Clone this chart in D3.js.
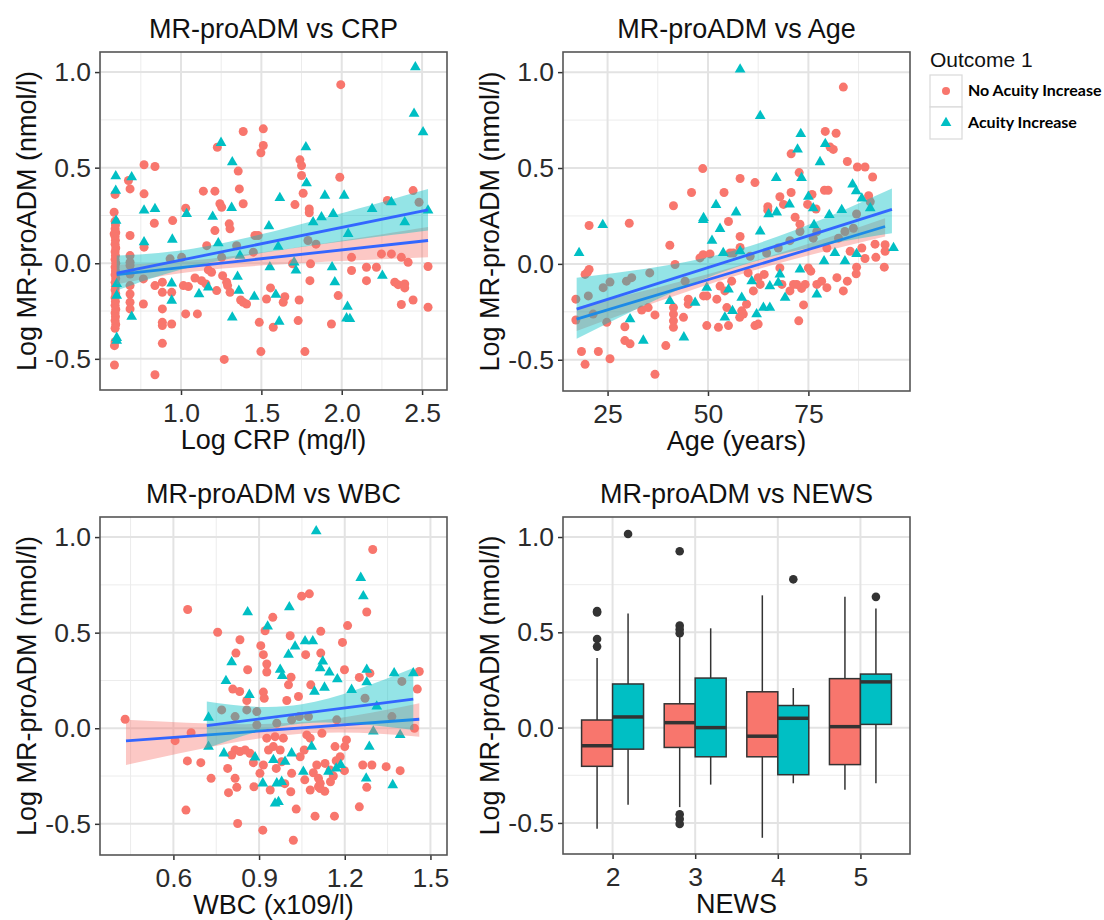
<html>
<head>
<style>
body { margin: 0; background: #fff; }
text { font-family: "Liberation Sans", Arial, sans-serif; }
</style>
<script src="https://cdnjs.cloudflare.com/ajax/libs/d3/7.8.5/d3.min.js"></script>
</head>
<body>
<script>
var width = 1104, height = 920;
var noColor = "#F8766D", incColor = "#00BFC4", fitColor = "#3366FF";

// shared y axis
var yTicks = [-0.5, 0.0, 0.5, 1.0];
var yMinor = [-0.25, 0.25, 0.75];

// CRP panel
var crpTicks = [1.0, 1.5, 2.0, 2.5];
var crpMinor = [0.5, 0.75, 1.25, 1.75, 2.25];
var crpNo = [[1.994,0.934],[1.387,0.689],[1.512,0.703],[1.512,0.616],[1.497,0.578],[1.226,0.607],[0.770,0.515],[0.838,0.506],[0.673,0.433],[0.683,0.389],[0.770,0.363],[0.590,0.360],[0.584,0.267],[0.683,0.145],[0.770,0.084],[0.834,0.209],[0.948,0.223],[1.029,0.288],[1.139,0.377],[1.211,0.377],[1.242,0.311],[1.253,0.293],[1.211,0.171],[1.300,0.206],[1.305,0.180],[1.356,0.482],[1.363,0.389],[1.387,0.311],[1.740,0.541],[1.750,0.511],[1.750,0.459],[1.760,0.366],[1.709,0.307],[1.798,0.284],[1.798,0.264],[1.988,0.450],[2.284,0.328],[2.444,0.380],[2.481,0.319],[1.460,0.145],[1.480,0.145],[1.170,-0.035],[1.087,-0.077],[1.015,-0.117],[1.046,-0.122],[1.128,-0.091],[1.155,-0.108],[1.190,-0.047],[1.259,-0.065],[1.284,-0.099],[1.222,-0.143],[1.305,-0.152],[1.290,-0.117],[1.371,-0.192],[1.387,-0.204],[1.408,-0.213],[1.532,-0.187],[1.557,-0.129],[1.646,-0.175],[1.636,-0.204],[1.574,-0.335],[1.487,-0.309],[1.497,-0.462],[1.269,-0.503],[1.735,-0.192],[1.729,-0.300],[1.771,-0.462],[1.802,-0.091],[1.806,-0.003],[1.694,-0.003],[1.978,-0.169],[1.936,-0.318],[2.061,-0.038],[2.061,0.031],[2.154,-0.091],[2.216,-0.021],[2.154,-0.021],[2.247,0.049],[2.309,0.049],[2.330,-0.099],[2.351,-0.112],[2.371,0.031],[2.392,-0.108],[2.392,-0.129],[2.413,0.005],[2.371,-0.216],[2.444,-0.192],[2.537,-0.017],[2.537,-0.230],[0.838,-0.117],[0.884,-0.099],[0.884,-0.152],[0.942,-0.152],[0.884,-0.239],[0.884,-0.309],[0.884,-0.326],[0.942,-0.318],[0.884,-0.419],[0.838,-0.583],[0.766,-0.213],[1.029,-0.265],[1.102,-0.265],[0.586,-0.532],[0.586,-0.431],[0.683,0.040],[0.683,-0.012],[0.683,-0.056],[0.683,-0.117],[0.683,-0.161],[0.683,-0.204],[0.683,-0.239],[0.584,0.154],[0.590,0.220],[0.592,0.200],[0.590,0.180],[0.594,0.160],[0.590,0.140],[0.592,0.120],[0.590,0.100],[0.594,0.080],[0.590,0.060],[0.592,0.040],[0.590,0.020],[0.594,0.000],[0.590,-0.020],[0.592,-0.040],[0.590,-0.060],[0.594,-0.080],[0.590,-0.100],[0.592,-0.120],[0.590,-0.140],[0.594,-0.160],[0.590,-0.180],[0.592,-0.200],[0.590,-0.220],[0.594,-0.240],[0.590,-0.260],[0.592,-0.280],[0.590,-0.300],[0.594,-0.320],[0.590,-0.340],[0.590,-0.410],[0.683,0.005],[0.766,-0.082],[0.932,0.023],[1.004,0.031],[1.160,0.092],[1.253,0.031],[1.346,0.092],[1.450,0.058],[1.790,0.119],[1.840,0.100]];
var crpInc = [[2.458,1.026],[2.450,0.782],[2.506,0.686],[1.777,0.607],[1.781,0.419],[1.249,0.630],[1.319,0.529],[0.594,0.455],[0.594,0.380],[0.693,0.450],[0.770,0.276],[0.838,0.284],[1.035,0.258],[1.197,0.244],[1.315,0.290],[0.946,0.124],[0.770,0.110],[0.596,0.223],[1.615,0.342],[1.895,0.354],[2.015,0.354],[1.822,0.215],[1.874,0.241],[1.947,0.258],[2.189,0.284],[2.309,0.319],[2.392,0.215],[2.537,0.276],[1.547,0.194],[1.232,0.105],[1.367,0.040],[1.553,-0.021],[1.605,0.087],[1.704,0.005],[1.715,-0.038],[1.940,-0.021],[1.957,-0.099],[2.253,-0.065],[2.036,-0.227],[2.051,-0.291],[2.030,-0.288],[1.611,-0.305],[1.590,-0.164],[1.456,-0.175],[1.360,-0.143],[1.319,-0.283],[1.352,-0.070],[1.112,-0.161],[1.170,-0.126],[0.942,-0.195],[0.942,-0.105],[0.693,-0.279],[0.600,-0.405],[0.600,-0.169],[0.600,-0.108],[0.600,-0.390],[2.040,0.154]];
var crpNoFit = [[0.6,-0.059],[2.537,0.119]];
var crpIncFit = [[0.6,-0.052],[2.537,0.279]];
var crpNoBand = [[0.6,-0.110,-0.008],[1.3,-0.025,0.035],[2.537,0.031,0.190]];
var crpIncBand = [[0.6,-0.143,0.040],[1.3,0.023,0.113],[2.537,0.171,0.389]];

// Age panel
var ageTicks = [25, 50, 75];
var ageMinor = [37.5, 62.5, 87.5];
var ageNo = [[83.7,0.922],[79.2,0.691],[81.9,0.681],[80.4,0.609],[81.2,0.597],[70.7,0.574],[48.7,0.497],[84.7,0.534],[87.2,0.505],[89.1,0.505],[91.0,0.453],[58.0,0.445],[61.7,0.424],[72.7,0.476],[45.9,0.372],[54.0,0.372],[41.4,0.303],[30.4,0.212],[20.4,0.200],[67.9,0.350],[70.7,0.372],[75.9,0.362],[79.0,0.384],[79.9,0.384],[64.9,0.298],[64.9,0.280],[68.8,0.310],[74.8,0.310],[76.9,0.286],[71.7,0.243],[55.1,0.221],[72.9,0.207],[90.0,0.355],[58.0,0.143],[40.5,0.097],[48.8,0.048],[50.5,0.052],[58.0,0.086],[56.3,0.057],[67.5,0.083],[70.4,0.121],[76.2,0.134],[79.6,0.083],[82.5,0.134],[85.4,0.066],[88.3,0.083],[91.6,0.103],[94.1,0.100],[94.1,0.066],[91.8,0.034],[89.1,0.028],[93.9,-0.017],[87.0,-0.017],[86.9,-0.052],[84.7,-0.090],[82.1,-0.072],[83.7,-0.141],[79.6,-0.124],[78.3,-0.090],[77.1,-0.107],[75.0,-0.021],[75.6,-0.038],[74.2,-0.107],[73.3,-0.128],[72.1,-0.107],[71.3,-0.107],[73.8,-0.214],[72.6,-0.297],[70.4,-0.141],[68.4,-0.107],[67.9,-0.021],[64.0,-0.055],[63.0,-0.107],[62.5,-0.072],[61.3,-0.141],[60.0,-0.047],[59.6,-0.210],[58.4,-0.245],[57.9,-0.279],[62.5,-0.314],[61.7,-0.322],[58.8,-0.262],[54.7,-0.228],[55.1,-0.322],[52.6,-0.331],[49.7,-0.322],[49.7,-0.167],[48.9,-0.167],[52.2,-0.184],[53.0,-0.116],[54.2,-0.141],[55.9,-0.090],[45.1,-0.210],[45.1,-0.184],[43.9,-0.279],[41.4,-0.228],[41.4,-0.262],[41.4,-0.297],[41.4,-0.331],[39.5,-0.426],[36.8,-0.266],[36.8,-0.576],[29.3,-0.328],[29.3,-0.400],[30.6,-0.417],[25.6,-0.495],[22.7,-0.457],[18.5,-0.457],[19.4,-0.524],[17.1,-0.184],[17.1,-0.293],[20.0,-0.043],[19.4,-0.055],[20.4,-0.029],[48.0,0.031],[20.2,-0.167],[23.9,-0.124],[25.6,-0.095],[29.7,-0.090],[31.0,-0.072],[35.5,-0.047],[41.8,-0.003],[33.5,-0.241],[35.1,-0.228],[24.8,-0.305],[21.4,-0.262],[44.3,-0.090],[55.5,0.057],[60.5,0.040],[64.6,0.057],[72.9,0.169],[77.1,0.169],[86.2,0.186],[87.0,0.260],[90.4,0.324],[84.1,0.169]];
var ageInc = [[58.0,1.014],[63.0,0.772],[73.1,0.678],[72.3,0.597],[79.2,0.626],[77.9,0.531],[17.9,0.057],[23.8,0.203],[48.8,0.229],[48.9,0.240],[52.0,0.307],[57.0,0.269],[51.0,0.121],[53.0,0.183],[63.0,0.169],[67.0,0.448],[73.3,0.448],[75.0,0.350],[70.3,0.310],[65.1,0.259],[67.1,0.269],[76.2,0.290],[80.2,0.255],[83.3,0.281],[86.0,0.414],[86.9,0.379],[88.3,0.341],[90.4,0.290],[96.2,0.083],[76.4,0.203],[53.8,0.057],[58.0,0.066],[49.7,-0.124],[55.1,-0.133],[60.9,-0.090],[58.4,-0.176],[65.4,-0.116],[67.9,-0.055],[67.5,-0.098],[69.2,-0.176],[63.8,-0.228],[65.4,-0.228],[62.1,-0.262],[72.9,-0.029],[77.1,-0.159],[78.9,0.014],[81.6,0.057],[84.1,0.014],[87.0,0.052],[40.5,-0.193],[46.8,-0.202],[30.6,-0.288],[33.9,-0.400],[44.0,-0.383],[54.2,-0.279],[56.1,-0.245]];
var ageNoFit = [[17.3,-0.288],[94.1,0.195]];
var ageIncFit = [[17.3,-0.236],[95.8,0.284]];
var ageNoBand = [[17.3,-0.350,-0.226],[57,-0.062,-0.012],[94.1,0.143,0.238]];
var ageIncBand = [[17.3,-0.391,-0.072],[57,-0.018,0.072],[95.8,0.160,0.393]];

// WBC panel
var wbcTicks = [0.6, 0.9, 1.2, 1.5];
var wbcMinor = [0.45, 0.75, 1.05, 1.35];
var wbcNo = [[1.298,0.935],[0.650,0.621],[1.049,0.691],[1.076,0.703],[1.277,0.608],[0.948,0.580],[1.210,0.537],[0.755,0.502],[1.116,0.507],[0.921,0.510],[1.009,0.484],[0.833,0.463],[0.906,0.432],[1.192,0.449],[0.819,0.393],[0.915,0.385],[1.063,0.385],[1.116,0.393],[0.860,0.306],[0.927,0.336],[0.927,0.294],[1.012,0.267],[1.081,0.227],[1.199,0.306],[1.251,0.266],[1.288,0.288],[1.461,0.297],[1.454,0.205],[0.808,0.205],[0.832,0.192],[0.857,0.145],[0.915,0.189],[0.918,0.157],[0.997,0.145],[1.038,0.166],[1.003,0.227],[0.649,-0.171],[0.606,-0.065],[0.696,-0.180],[0.662,-0.023],[0.431,0.047],[0.732,-0.262],[0.644,-0.428],[0.790,-0.210],[0.816,-0.262],[0.793,-0.337],[0.822,-0.309],[0.825,-0.498],[0.913,-0.533],[1.020,-0.586],[1.030,-0.423],[1.096,-0.460],[1.164,-0.460],[1.251,-0.411],[0.882,-0.306],[0.939,-0.323],[1.011,-0.332],[1.079,-0.323],[1.114,-0.288],[1.108,-0.262],[0.903,-0.236],[0.915,-0.192],[0.933,-0.114],[0.950,-0.096],[0.974,-0.114],[0.816,-0.114],[0.833,-0.122],[0.851,-0.114],[0.868,-0.131],[0.804,-0.140],[0.956,-0.044],[0.927,-0.052],[0.985,-0.052],[1.014,-0.236],[1.044,-0.149],[1.058,-0.114],[1.079,-0.052],[1.120,-0.026],[1.166,-0.096],[1.184,-0.149],[1.200,-0.096],[1.206,-0.061],[1.131,-0.184],[1.149,-0.219],[1.102,-0.192],[1.090,-0.233],[1.108,-0.306],[1.114,-0.315],[1.199,-0.222],[1.263,-0.192],[1.295,-0.192],[1.345,-0.201],[1.394,-0.222],[1.277,-0.309],[1.444,0.000],[1.014,0.044],[1.041,0.061],[1.067,-0.035],[0.979,-0.175],[0.892,0.017],[0.769,0.096],[0.816,0.061],[0.857,0.096],[0.892,0.087],[0.962,0.026],[1.073,0.061],[1.271,0.157],[1.400,0.245],[1.365,0.061],[1.172,0.044],[1.150,-0.280],[1.160,-0.250],[1.130,-0.330],[1.170,-0.170],[1.060,-0.270],[0.960,-0.210],[0.880,-0.180],[0.990,-0.290]];
var wbcInc = [[1.100,1.031],[1.256,0.787],[1.265,0.691],[0.860,0.607],[1.006,0.633],[0.930,0.533],[1.061,0.455],[1.088,0.455],[1.026,0.428],[1.003,0.385],[0.804,0.346],[0.784,0.248],[0.866,0.175],[0.974,0.306],[0.981,0.274],[1.123,0.350],[1.114,0.315],[1.146,0.292],[1.094,0.192],[1.129,0.213],[1.174,0.257],[1.224,0.201],[1.277,0.306],[1.277,0.241],[1.373,0.288],[1.440,0.288],[1.312,0.114],[0.723,0.056],[0.723,-0.096],[0.777,-0.131],[0.886,-0.152],[0.950,-0.166],[0.991,-0.175],[1.014,-0.131],[1.084,-0.096],[1.055,-0.227],[0.913,-0.288],[0.962,-0.288],[0.979,-0.280],[0.956,-0.393],[0.968,-0.385],[1.143,-0.227],[1.170,-0.210],[1.186,-0.192],[1.286,-0.096],[1.275,-0.262],[1.368,-0.297],[1.394,-0.035],[1.300,-0.017]];
var wbcNoFit = [[0.434,-0.066],[1.461,0.047]];
var wbcIncFit = [[0.717,0.014],[1.440,0.152]];
var wbcNoBand = [[0.434,-0.192,0.044],[1.0,-0.035,0.027],[1.461,-0.044,0.131]];
var wbcIncBand = [[0.717,-0.105,0.140],[1.05,0.025,0.125],[1.440,-0.009,0.315]];

// NEWS panel (box plot summaries)
var newsCats = ["2", "3", "4", "5"];
var newsNo = [
    {lo: -0.530, q1: -0.203, med: -0.095, q3: 0.040, hi: 0.365, out: [0.611, 0.604, 0.465, 0.425]},
    {lo: -0.417, q1: -0.104, med: 0.026, q3: 0.125, hi: 0.480, out: [0.925, 0.535, 0.515, 0.495, -0.455, -0.480, -0.505]},
    {lo: -0.578, q1: -0.153, med: -0.045, q3: 0.188, hi: 0.694, out: []},
    {lo: -0.326, q1: -0.194, med: 0.005, q3: 0.257, hi: 0.686, out: []}
];
var newsInc = [
    {lo: -0.405, q1: -0.113, med: 0.056, q3: 0.229, hi: 0.599, out: [1.016]},
    {lo: -0.299, q1: -0.153, med: 0.000, q3: 0.260, hi: 0.521, out: []},
    {lo: -0.292, q1: -0.247, med: 0.049, q3: 0.116, hi: 0.208, out: [0.778]},
    {lo: -0.292, q1: 0.017, med: 0.240, q3: 0.281, hi: 0.625, out: [0.686]}
];

var yLabel = "Log MR-proADM (nmol/l)";

var svg = d3.select("body").append("svg")
    .attr("width", width)
    .attr("height", height);

function makePanel(p) {
    var g = svg.append("g").attr("transform", "translate(" + p.x + "," + p.y + ")");
    var y = d3.scaleLinear().domain([-0.663, 1.105]).range([p.h, 0]);
    var x = p.band
        ? d3.scalePoint().domain(newsCats).range([0, p.w]).padding(0.6)
        : d3.scaleLinear().domain(p.xdom).range([0, p.w]);

    g.append("rect").attr("width", p.w).attr("height", p.h).attr("fill", "white");

    var grid = g.append("g");
    grid.selectAll(".ymin").data(yMinor).enter().append("line")
        .attr("x1", 0).attr("x2", p.w)
        .attr("y1", d => y(d)).attr("y2", d => y(d))
        .attr("stroke", "#ececec").attr("stroke-width", 1);
    if (p.xminor) {
        grid.selectAll(".xmin").data(p.xminor).enter().append("line")
            .attr("x1", d => x(d)).attr("x2", d => x(d))
            .attr("y1", 0).attr("y2", p.h)
            .attr("stroke", "#ececec").attr("stroke-width", 1);
    }
    grid.selectAll(".ymaj").data(yTicks).enter().append("line")
        .attr("x1", 0).attr("x2", p.w)
        .attr("y1", d => y(d)).attr("y2", d => y(d))
        .attr("stroke", "#e3e3e3").attr("stroke-width", 2);
    var xt = p.band ? newsCats : p.xticks;
    grid.selectAll(".xmaj").data(xt).enter().append("line")
        .attr("x1", d => x(d)).attr("x2", d => x(d))
        .attr("y1", 0).attr("y2", p.h)
        .attr("stroke", "#e3e3e3").attr("stroke-width", 2);

    var yAxis = g.append("g")
        .call(d3.axisLeft(y).tickValues(yTicks).tickFormat(d => d.toFixed(1)).tickSize(5).tickPadding(4));
    var xAxis = g.append("g").attr("transform", "translate(0," + p.h + ")")
        .call(d3.axisBottom(x).tickValues(xt).tickFormat(p.fmt).tickSize(5).tickPadding(8));
    [yAxis, xAxis].forEach(function (a) {
        a.select(".domain").remove();
        a.selectAll("line").attr("stroke", "#333").attr("stroke-width", 1.5);
        a.selectAll("text").attr("fill", "#2b2b2b")
            .style("font-size", "26.5px")
            .style("font-family", "'Liberation Sans', Arial, sans-serif");
    });

    g.append("text").attr("x", p.w / 2).attr("y", -14)
        .attr("text-anchor", "middle").attr("fill", "#111")
        .style("font-size", "27px").text(p.title);
    g.append("text").attr("x", p.w / 2).attr("y", p.h + 59)
        .attr("text-anchor", "middle").attr("fill", "#111")
        .style("font-size", "27px").text(p.xlab);
    g.append("text")
        .attr("transform", "translate(-64," + (p.h / 2) + ") rotate(-90)")
        .attr("text-anchor", "middle").attr("fill", "#111")
        .style("font-size", "27px").text(yLabel);

    var plot = g.append("g");
    return {g: g, plot: plot, x: x, y: y, p: p};
}

function finishPanel(P) {
    P.g.append("rect").attr("width", P.p.w).attr("height", P.p.h)
        .attr("fill", "none").attr("stroke", "#555").attr("stroke-width", 1.6);
}

var tri = d3.symbol().type(d3.symbolTriangle).size(50);

function drawScatter(P, noPts, incPts, noFit, incFit, noBand, incBand) {
    var x = P.x, y = P.y, plot = P.plot;
    plot.selectAll(".no").data(noPts).enter().append("circle")
        .attr("cx", d => x(d[0])).attr("cy", d => y(d[1])).attr("r", 4.5)
        .attr("fill", noColor);
    plot.selectAll(".inc").data(incPts).enter().append("path")
        .attr("d", tri)
        .attr("transform", d => "translate(" + x(d[0]) + "," + y(d[1]) + ")")
        .attr("fill", incColor);

    var area = d3.area().curve(d3.curveNatural)
        .x(d => x(d[0])).y0(d => y(d[1])).y1(d => y(d[2]));
    var line = d3.line().x(d => x(d[0])).y(d => y(d[1]));

    plot.append("path").datum(noBand).attr("d", area)
        .attr("fill", noColor).attr("fill-opacity", 0.4);
    plot.append("path").datum(noFit).attr("d", line)
        .attr("stroke", fitColor).attr("stroke-width", 2.8).attr("fill", "none");
    plot.append("path").datum(incBand).attr("d", area)
        .attr("fill", incColor).attr("fill-opacity", 0.42);
    plot.append("path").datum(incFit).attr("d", line)
        .attr("stroke", fitColor).attr("stroke-width", 2.8).attr("fill", "none");
}

function drawBoxes(P) {
    var x = P.x, y = P.y, plot = P.plot;
    var bw = x.step() * 0.375;
    [[newsNo, noColor, -1], [newsInc, incColor, 1]].forEach(function (grp) {
        grp[0].forEach(function (s, i) {
            var cx = x(newsCats[i]) + grp[2] * bw / 2;
            var b = plot.append("g");
            b.append("line").attr("x1", cx).attr("x2", cx)
                .attr("y1", y(s.hi)).attr("y2", y(s.q3))
                .attr("stroke", "#333").attr("stroke-width", 1.5);
            b.append("line").attr("x1", cx).attr("x2", cx)
                .attr("y1", y(s.q1)).attr("y2", y(s.lo))
                .attr("stroke", "#333").attr("stroke-width", 1.5);
            b.append("rect").attr("x", cx - bw / 2).attr("width", bw)
                .attr("y", y(s.q3)).attr("height", y(s.q1) - y(s.q3))
                .attr("fill", grp[1]).attr("stroke", "#333").attr("stroke-width", 1.5);
            b.append("line").attr("x1", cx - bw / 2).attr("x2", cx + bw / 2)
                .attr("y1", y(s.med)).attr("y2", y(s.med))
                .attr("stroke", "#333").attr("stroke-width", 3.5);
            b.selectAll("circle").data(s.out).enter().append("circle")
                .attr("cx", cx).attr("cy", d => y(d)).attr("r", 4.3)
                .attr("fill", "#333");
        });
    });
}

var fmt1 = d => d.toFixed(1);

var p1 = makePanel({x: 100, y: 52, w: 347, h: 338, title: "MR-proADM vs CRP", xlab: "Log CRP (mg/l)",
    xdom: [0.496, 2.655], xticks: crpTicks, xminor: crpMinor, fmt: fmt1});
drawScatter(p1, crpNo, crpInc, crpNoFit, crpIncFit, crpNoBand, crpIncBand);
finishPanel(p1);

var p2 = makePanel({x: 563, y: 52, w: 347, h: 339, title: "MR-proADM vs Age", xlab: "Age (years)",
    xdom: [13.9, 100.3], xticks: ageTicks, xminor: ageMinor, fmt: d => d});
drawScatter(p2, ageNo, ageInc, ageNoFit, ageIncFit, ageNoBand, ageIncBand);
finishPanel(p2);

var p3 = makePanel({x: 100, y: 517, w: 347, h: 338, title: "MR-proADM vs WBC", xlab: "WBC (x109/l)",
    xdom: [0.343, 1.558], xticks: wbcTicks, xminor: wbcMinor, fmt: fmt1});
drawScatter(p3, wbcNo, wbcInc, wbcNoFit, wbcIncFit, wbcNoBand, wbcIncBand);
finishPanel(p3);

var p4 = makePanel({x: 563, y: 517, w: 347, h: 337, title: "MR-proADM vs NEWS", xlab: "NEWS",
    band: true, fmt: d => d});
drawBoxes(p4);
finishPanel(p4);

// legend
var legend = svg.append("g").attr("transform", "translate(930,75)");
legend.append("text").attr("x", 0).attr("y", -8.5)
    .attr("fill", "#111").style("font-size", "21px").text("Outcome 1");
var keys = [{label: "No Acuity Increase", color: noColor, shape: "circle"},
            {label: "Acuity Increase", color: incColor, shape: "triangle"}];
keys.forEach(function (k, i) {
    var kg = legend.append("g").attr("transform", "translate(0," + (i * 32) + ")");
    kg.append("rect").attr("width", 32).attr("height", 32)
        .attr("fill", "white").attr("stroke", "#d9d9d9").attr("stroke-width", 1.2);
    if (k.shape === "circle") {
        kg.append("circle").attr("cx", 16).attr("cy", 16).attr("r", 4).attr("fill", k.color);
    } else {
        kg.append("path").attr("d", tri).attr("transform", "translate(16,16)").attr("fill", k.color);
    }
    kg.append("text").attr("x", 38).attr("y", 21)
        .attr("fill", "#000")
        .style("font-family", "Lato, 'Open Sans', sans-serif")
        .style("font-weight", "bold").style("font-size", "16px")
        .text(k.label);
});
</script>
</body>
</html>
